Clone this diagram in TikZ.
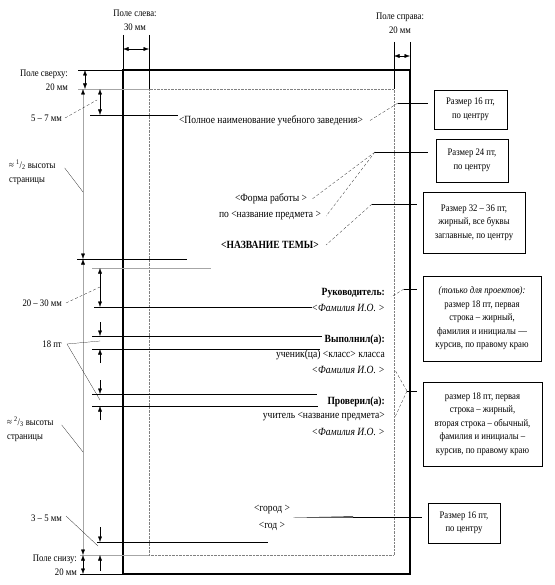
\documentclass[tikz,border=0pt]{standalone}
\usepackage{fontspec}
\setmainfont{Liberation Serif}[FakeStretch=0.87]
\usetikzlibrary{arrows.meta,positioning,shadows}

\tikzset{
    body/.style = {font=\fontsize{11}{15}\selectfont, inner sep=1pt},
    small/.style = {font=\fontsize{10}{14}\selectfont, inner sep=1pt},
    note/.style = {draw, thin, fill=white, align=center, font=\fontsize{10}{13.5}\selectfont,
                   drop shadow={shadow xshift=1.2pt, shadow yshift=-1.2pt, opacity=.35}},
    lead/.style = {densely dashed, very thin},
    gline/.style = {gray!70, thin},
}

\begin{document}
\begin{tikzpicture}[x=1pt, y=-1pt, >={Latex[length=5.5pt,width=4pt]}]
    \useasboundingbox (0,0) rectangle (554,585);

    % sheet and working field
    \draw[line width=1.6pt] (123,70) rectangle (410,574);
    \draw[densely dotted, gray] (149,89) rectangle (394,555);

    % extension lines of the margins
    \draw[thin] (123,35) -- (123,70);
    \draw[thin] (149,35) -- (149,89);
    \draw[thin] (394,42) -- (394,89);
    \draw[thin] (410,42) -- (410,70);
    \draw[thin] (78,70) -- (123,70);
    \draw[gline] (78,89) -- (149,89);
    \draw[gline] (80,555) -- (149,555);
    \draw[thin] (80,574) -- (123,574);

    % reference lines of the text blocks
    \draw[thin] (90,115) -- (178,115);
    \draw[thin] (77,259) -- (187,259);
    \draw[gline] (92,268) -- (211,268);
    \draw[semithick] (94,307) -- (312,307);
    \foreach \y/\xa/\xb in {336/92/322, 349/92/320, 394/92/317, 406/92/318, 542/97/268}
        \draw[thin] (\xa,\y) -- (\xb,\y);

    % dimension arrows
    \draw[thin, <->] (123,49) -- (149,49);
    \draw[thin, <->] (394,56) -- (410,56);
    \draw[thin, <->] (85,70) -- (85,89);
    \draw[thin, <->] (100,89) -- (100,115);
    \draw[gline, <->, >={Latex[length=5.5pt,width=4pt,black]}] (83,89) -- (83,259);
    \draw[gline, <->, >={Latex[length=5.5pt,width=4pt,black]}] (83,259) -- (83,555);
    \draw[thin, <->] (83,555) -- (83,574);
    \draw[thin, <->] (100,268) -- (100,307);
    \foreach \ya/\yb in {322/336, 363/349, 380/394, 420/406, 527/542, 571/555}
        \draw[thin, ->] (100,\ya) -- (100,\yb);

    % labels of the dimensions
    \node[small, align=center] (mLeft) at (135,20) {Поле слева:\\30 мм};
    \node[small, align=center] (mRight) at (400,23) {Поле справа:\\20 мм};
    \node[small, align=right, anchor=east] (mTop) at (69,80) {Поле сверху:\\20 мм};
    \node[small, anchor=east] (gapA) at (63,118) {5 – 7 мм};
    \node[small, align=left, anchor=west] (half) at (8,172)
        {≈ \textsuperscript{1}/\textsubscript{2} высоты\\страницы};
    \node[small, anchor=east] (gapB) at (63,303) {20 – 30 мм};
    \node[small, anchor=east] (gapC) at (63,344) {18 пт};
    \node[small, align=left, anchor=west] (twoth) at (6,429)
        {≈ \textsuperscript{2}/\textsubscript{3} высоты\\страницы};
    \node[small, anchor=east] (gapD) at (63,518) {3 – 5 мм};
    \node[small, align=right, anchor=east] (mBot) at (78,565) {Поле снизу:\\20 мм};

    % leaders of the dimension labels
    \coordinate (pA) at (97,100);
    \coordinate (pHalf) at (83,192);
    \coordinate (pB) at (100,287);
    \coordinate (pC) at (100,341);
    \coordinate (pCC) at (100,400);
    \coordinate (pTwo) at (83,452);
    \coordinate (pD) at (98,546);
    \draw[lead] ([xshift=2pt]gapA.east) -- (pA);
    \draw[very thin] ([xshift=8pt,yshift=4pt]half.east) -- (pHalf);
    \draw[lead] ([xshift=3pt]gapB.east) -- (pB);
    \draw[very thin] ([xshift=4pt]gapC.east) -- (pC);
    \draw[very thin] ([xshift=4pt]gapC.east) -- (pCC);
    \draw[very thin] ([xshift=7pt,yshift=4pt]twoth.east) -- (pTwo);
    \draw[very thin] ([xshift=3pt,yshift=2pt]gapD.east) -- (pD);

    % title page texts
    \node[body] (inst) at (271,121) {<Полное наименование учебного заведения>};
    \node[body] (form) at (271,199) {<Форма работы >};
    \node[body] (subj) at (270,216) {по <название предмета >};
    \node[body, font=\fontsize{11}{15}\selectfont\bfseries] (theme) at (270,245) {<НАЗВАНИЕ ТЕМЫ>};
    \node[body, anchor=east, font=\fontsize{11}{15}\selectfont\bfseries] (head) at (386,293) {Руководитель:};
    \node[body, anchor=east, font=\fontsize{11}{15}\selectfont\itshape] (headName) at (386,308) {<Фамилия И.О. >};
    \node[body, anchor=east, font=\fontsize{11}{15}\selectfont\bfseries] (done) at (386,340) {Выполнил(а):};
    \node[body, anchor=east] (doneCls) at (386,355) {ученик(ца) <класс> класса};
    \node[body, anchor=east, font=\fontsize{11}{15}\selectfont\itshape] (doneName) at (386,370) {<Фамилия И.О. >};
    \node[body, anchor=east, font=\fontsize{11}{15}\selectfont\bfseries] (chk) at (386,402) {Проверил(а):};
    \node[body, anchor=east] (chkSubj) at (386,417) {учитель <название предмета>};
    \node[body, anchor=east, font=\fontsize{11}{15}\selectfont\itshape] (chkName) at (386,432) {<Фамилия И.О. >};
    \node[body] (city) at (272,510) {<город >};
    \node[body] (year) at (272,526) {<год >};

    % notes on the right
    \node[note, minimum width=73pt, minimum height=39pt] (szA) at (470.5,109.5) {Размер 16 пт,\\по центру};
    \node[note, minimum width=72pt, minimum height=43pt] (szB) at (472,160.5) {Размер 24 пт,\\по центру};
    \node[note, minimum width=102pt, minimum height=61pt] (szC) at (474,222.5)
        {Размер 32 – 36 пт,\\жирный, все буквы\\заглавные, по центру};
    \node[note, minimum width=118pt, minimum height=85pt] (szD) at (482,318.5)
        {\textit{(только для проектов):}\\размер 18 пт, первая\\строка – жирный,\\фамилия и инициалы —\\курсив, по правому краю};
    \node[note, minimum width=119pt, minimum height=84pt] (szE) at (482.5,424)
        {размер 18 пт, первая\\строка – жирный,\\вторая строка – обычный,\\фамилия и инициалы –\\курсив, по правому краю};
    \node[note, minimum width=72pt, minimum height=40pt] (szF) at (464,523) {Размер 16 пт,\\по центру};

    % leaders of the notes
    \coordinate (kA) at (398,103);
    \coordinate (kB) at (375,152);
    \coordinate (kC) at (372,204);
    \coordinate (kD) at (404,289);
    \coordinate (kE) at (407,391);
    \coordinate (kF) at (353,517);
    \draw[thin] (kA) -- ([xshift=-6pt]szA.west |- kA);
    \draw[lead] (kA) -- ([xshift=5pt]inst.east);
    \draw[thin] (kB) -- ([xshift=-8pt]szB.west |- kB);
    \draw[lead] (kB) -- ([xshift=4pt]form.east);
    \draw[lead] (kB) -- ([xshift=4pt]subj.east);
    \draw[thin] (kC) -- ([xshift=-6pt]szC.west |- kC);
    \draw[lead] (kC) -- ([xshift=6pt]theme.east);
    \draw[thin] (kD) -- ([xshift=-6pt]szD.west |- kD);
    \draw[lead] (kD) -- ([xshift=5pt,yshift=-4pt]head.east);
    \draw[thin] (kE) -- ([xshift=-6pt]szE.west |- kE);
    \draw[lead] (kE) -- ([xshift=9pt]doneName.east);
    \draw[lead] (kE) -- ([xshift=9pt]chkSubj.east);
    \draw[thin] (kF) -- ([xshift=-6pt]szF.west |- kF);
    \fill ([yshift=0.7pt]kF) -- ([xshift=2pt,yshift=-2pt]city.south east) -- ([yshift=-0.7pt]kF) -- cycle;
\end{tikzpicture}
\end{document}
